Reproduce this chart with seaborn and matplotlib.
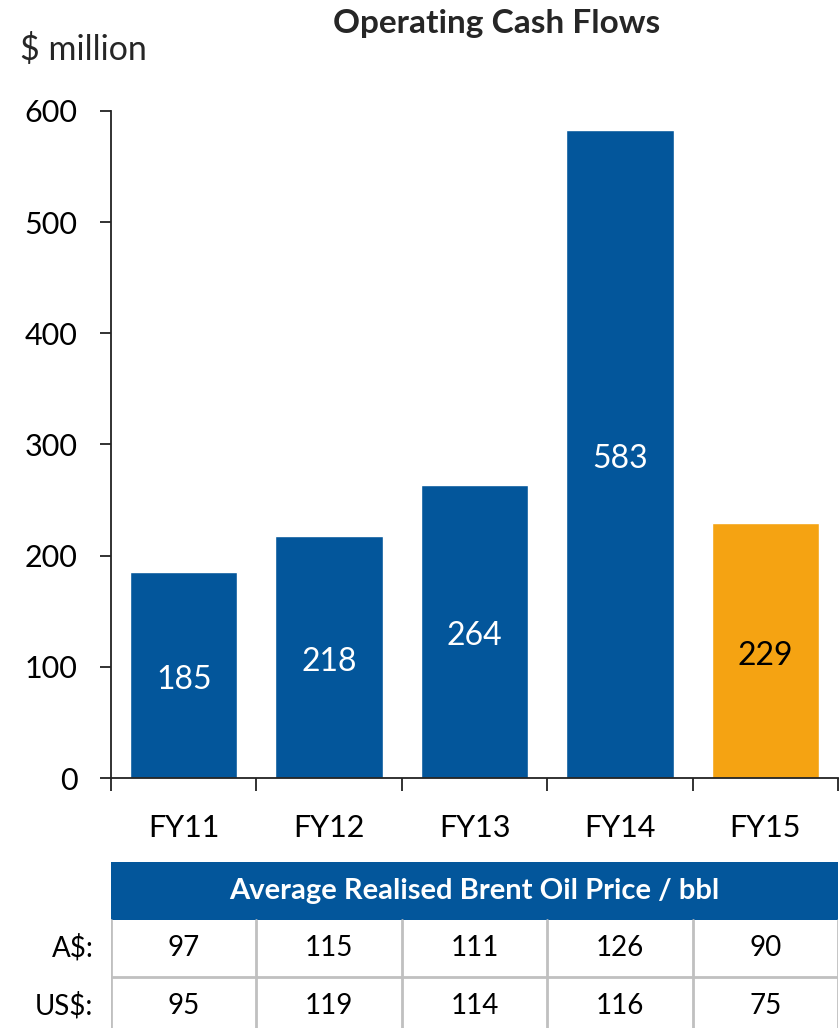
import matplotlib
matplotlib.use("Agg")
import matplotlib.pyplot as plt
from matplotlib.ticker import FixedLocator, NullFormatter
import seaborn as sns
import pandas as pd

# Operating cash flow by financial year ($ million)
years = ["FY11", "FY12", "FY13", "FY14", "FY15"]
cash_flow = [185, 218, 264, 583, 229]
bar_colors = ["#03569B", "#03569B", "#03569B", "#03569B", "#F5A312"]
label_colors = ["white", "white", "white", "white", "black"]

# Average realised Brent oil price per barrel
price_rows = ["A$:", "US$:"]
price_aud = [97, 115, 111, 126, 90]
price_usd = [95, 119, 114, 116, 75]
table_title = "Average Realised Brent Oil Price / bbl"

sns.set_theme(style="white")
plt.rcParams["font.family"] = ["Lato", "DejaVu Sans"]

W, H = 839, 1028
fig = plt.figure(figsize=(W / 100, H / 100), dpi=100)

def frac(x0, y0, x1, y1):
    return [x0 / W, 1 - y1 / H, (x1 - x0) / W, (y1 - y0) / H]

ax = fig.add_axes(frac(111, 111, 838, 778))
df = pd.DataFrame({"year": years, "value": cash_flow})
sns.barplot(data=df, x="year", y="value", hue="year", palette=bar_colors,
            saturation=1, width=0.74, legend=False, ax=ax)

for cont, col in zip(ax.containers, label_colors):
    ax.bar_label(cont, labels=[f"{v:.0f}" for v in cont.datavalues],
                 label_type="center", color=col, fontsize=23, padding=-3.5)

ax.set_xlim(-0.5, len(years) - 0.5)
ax.set_ylim(0, 600)
ax.set_yticks(range(0, 601, 100))
ax.set_xlabel("")
ax.set_ylabel("")
for s in ("top", "right"):
    ax.spines[s].set_visible(False)
for s in ("left", "bottom"):
    ax.spines[s].set_color("#222222")
    ax.spines[s].set_linewidth(1.3)

ax.tick_params(axis="y", which="major", length=8, width=1.3, color="#222222",
               direction="out", left=True, pad=16, labelsize=22, labelcolor="black")
ax.tick_params(axis="x", which="major", length=0, pad=26, labelsize=22,
               labelcolor="black")
ax.xaxis.set_minor_locator(FixedLocator([i - 0.5 for i in range(len(years) + 1)]))
ax.xaxis.set_minor_formatter(NullFormatter())
ax.tick_params(axis="x", which="minor", length=9, width=1.3, color="#222222",
               direction="out", bottom=True)

fig.text(497 / W, 1 - 23 / H, "Operating Cash Flows", ha="center", va="center",
         fontsize=24, fontweight="bold")
fig.text(20 / W, 1 - 50 / H, "$ million", ha="left", va="center", fontsize=24.5)

# Price table underneath, sharing the category columns
tax = fig.add_axes(frac(111, 862, 838, H))
row_h = 57.5
tax.set_xlim(-0.5, len(years) - 0.5)
tax.set_ylim((H - 862) / row_h, 0)
tax.axis("off")

blue = bar_colors[0]
grid = "#C0C0C0"
tax.axhspan(0, 1, color=blue, lw=0)
tax.text((len(years) - 1) / 2, 0.5, table_title, ha="center", va="center",
         color="white", fontsize=21, fontweight="bold")
for i in range(len(years) + 1):
    tax.plot([i - 0.5, i - 0.5], [1, 3], color=grid, lw=2, clip_on=True)
for r in (2,):
    tax.plot([-0.5, len(years) - 0.5], [r, r], color=grid, lw=2)
for r, vals in enumerate([price_aud, price_usd]):
    y = 1.5 + r
    for i, v in enumerate(vals):
        tax.text(i, y, str(v), ha="center", va="center", fontsize=20, color="black")
    tax.text(-0.62, y, price_rows[r], ha="right", va="center", fontsize=20,
             color="black", clip_on=False)

fig.savefig("out.png", dpi=100)
